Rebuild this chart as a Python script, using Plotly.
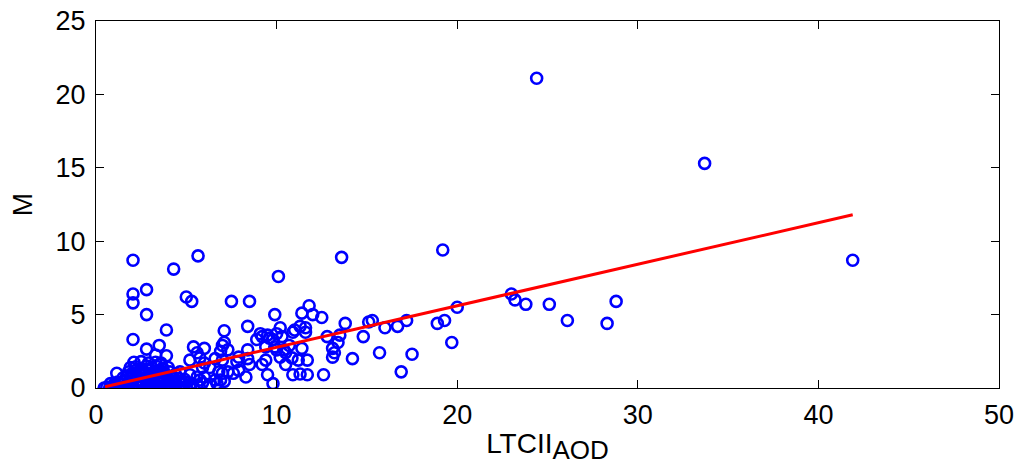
import plotly.graph_objects as go

# ---- data ----
x_outer = [24.4, 33.7, 41.9, 28.8, 28.3, 26.1, 25.1, 23.8, 23.2, 23.0, 20.0, 19.7, 19.3, 18.9,
           19.2, 17.5, 17.2, 16.9, 16.7, 16.0, 15.7, 15.3, 15.1, 14.8, 14.2, 13.8, 13.6, 13.5,
           13.4, 12.8, 13.1, 13.2, 13.1, 12.5, 12.0, 11.8, 11.4, 11.3, 11.6, 11.6, 11.7, 11.2,
           11.3, 11.7, 12.6, 10.1, 9.9, 10.9, 10.3, 10.0, 9.5, 9.1, 8.9, 9.4, 9.9, 10.4, 10.7,
           11.4, 9.4, 10.5, 10.9, 9.5, 9.8, 8.3, 8.5, 7.8, 7.9, 8.4, 8.4, 7.1, 7.0, 7.3, 6.0,
           5.6, 6.6, 7.0, 6.3, 6.8, 7.3, 5.9, 6.0, 6.6, 5.6, 7.5, 8.5, 5.65, 4.3, 2.05, 2.8,
           2.05, 2.05, 5.0, 5.3, 2.8, 3.9, 2.05, 2.8, 3.5, 3.3, 3.9, 5.4, 5.2, 1.15, 4.65,
           10.85, 10.2, 11.0, 10.2, 9.8, 9.2, 9.6, 7.1, 6.9, 5.75, 6.0, 7.9, 8.4, 9.2, 7.0, 7.6,
           6.9, 5.2, 5.75, 10.0, 10.5]
y_outer = [21.1, 15.3, 8.7, 5.9, 4.4, 4.6, 5.7, 5.7, 6.0, 6.4, 5.5, 3.1, 4.6, 4.4,
           9.4, 2.3, 4.6, 1.1, 4.2, 4.1, 2.4, 4.6, 4.5, 3.5, 2.0, 4.4, 8.9, 3.6,
           3.1, 3.5, 2.7, 2.4, 2.1, 4.8, 5.0, 5.6, 5.1, 4.2, 4.1, 3.8, 1.9, 1.9,
           0.95, 0.9, 0.9, 7.6, 5.0, 3.8, 3.5, 3.7, 3.6, 3.7, 3.3, 2.8, 2.8, 2.6, 2.9,
           2.7, 1.9, 1.6, 0.9, 0.9, 0.3, 0.75, 1.6, 1.8, 1.2, 4.2, 2.6, 3.9, 2.9, 2.6, 2.7,
           2.4, 2.0, 1.9, 1.4, 1.1, 1.1, 1.4, 0.75, 0.55, 0.75, 5.9, 5.9, 9.0, 8.1, 8.7, 6.7,
           6.4, 5.8, 6.2, 5.9, 5.0, 3.95, 3.3, 2.65, 2.9, 2.25, 2.2, 2.8, 1.9, 1.0, 1.1,
           2.05, 2.1, 3.95, 4.1, 3.3, 3.5, 3.4, 3.1, 2.5, 2.05, 1.7, 2.1, 2.0, 1.6, 1.0, 1.0,
           0.55, 0.9, 0.55, 2.6, 2.4]

# dense cluster near the origin
x_cluster = [0.45, 0.6, 0.75, 0.9, 1.05, 1.2, 1.35, 1.5, 1.65, 1.8, 1.95, 2.1, 2.25, 2.4, 2.55,
             2.7, 2.85, 3.0, 3.15, 3.3, 3.45, 3.6, 3.8, 4.0, 4.2, 4.4, 4.6, 4.8, 5.0, 5.2, 5.4,
             0.8, 1.0, 1.2, 1.4, 1.6, 1.8, 2.0, 2.2, 2.4, 2.6, 2.8, 3.0, 3.2, 3.4, 3.6, 3.8,
             4.0, 4.2, 4.4, 4.6, 4.8, 5.0, 5.3,
             1.5, 1.7, 1.9, 2.1, 2.3, 2.5, 2.7, 2.9, 3.1, 3.3, 3.5, 3.7, 3.9, 4.1, 4.3, 4.6, 4.9,
             1.8, 2.0, 2.2, 2.4, 2.6, 2.8, 3.0, 3.2, 3.4, 3.6, 3.8, 4.1, 4.4,
             1.9, 2.2, 2.5, 2.8, 3.1, 3.4, 3.7, 4.0,
             2.1, 2.5, 2.9, 3.3, 3.6,
             5.6, 5.9, 6.3, 6.7, 7.1]
y_cluster = [0.0, 0.05, 0.0, 0.08, 0.02, 0.1, 0.0, 0.06, 0.12, 0.03, 0.1, 0.0, 0.15, 0.05, 0.1,
             0.0, 0.12, 0.05, 0.1, 0.0, 0.08, 0.1, 0.0, 0.05, 0.1, 0.0, 0.06, 0.0, 0.1, 0.02, 0.05,
             0.3, 0.25, 0.4, 0.3, 0.45, 0.35, 0.5, 0.3, 0.45, 0.35, 0.5, 0.3, 0.4, 0.5, 0.35, 0.45,
             0.3, 0.4, 0.35, 0.45, 0.3, 0.4, 0.3,
             0.7, 0.8, 0.65, 0.85, 0.75, 0.9, 0.7, 0.85, 0.75, 0.9, 0.8, 0.7, 0.85, 0.75, 0.7, 0.65, 0.6,
             1.1, 1.0, 1.2, 1.05, 1.15, 1.0, 1.2, 1.1, 1.05, 1.15, 1.0, 1.1, 0.95,
             1.4, 1.45, 1.35, 1.5, 1.4, 1.45, 1.35, 1.4,
             1.75, 1.8, 1.7, 1.75, 1.7,
             0.2, 0.35, 0.25, 0.3, 0.45]

x_vals = x_outer + x_cluster
y_vals = y_outer + y_cluster

# regression line
fit_slope = 0.283
fit_intercept = -0.06
fit_x = [0.5, 41.9]
fit_y = [fit_slope * v + fit_intercept for v in fit_x]

x_ticks = [0, 10, 20, 30, 40, 50]
y_ticks = [0, 5, 10, 15, 20, 25]

FONT = "Liberation Sans, Arial, Helvetica, sans-serif"

fig = go.Figure()
fig.add_trace(go.Scatter(
    x=x_vals, y=y_vals, mode="markers",
    marker=dict(symbol="circle-open", size=11, color="#0000ff",
                line=dict(width=2.6, color="#0000ff")),
    showlegend=False, cliponaxis=True,
))
fig.add_trace(go.Scatter(
    x=fit_x, y=fit_y, mode="lines",
    line=dict(color="#ff0000", width=3),
    showlegend=False,
))

axis_common = dict(
    showgrid=False, zeroline=False, showline=True, linecolor="black", linewidth=1.3,
    mirror="ticks", ticks="inside", ticklen=8, tickwidth=1.3, tickcolor="black",
    tickfont=dict(family=FONT, size=27, color="black"),
)

fig.update_layout(
    width=1021, height=465,
    margin=dict(l=96, r=22, t=21, b=77, autoexpand=False),
    paper_bgcolor="white", plot_bgcolor="white",
    xaxis=dict(range=[0, 50], tickvals=x_ticks, ticktext=[str(v) for v in x_ticks],
               ticklabelstandoff=2,
               title=dict(text='LTCII<sub><span style="font-size:26px">AOD</span></sub>',
                          font=dict(family=FONT, size=28, color="black"), standoff=8),
               **axis_common),
    yaxis=dict(range=[0, 25], tickvals=y_ticks, ticktext=[str(v) for v in y_ticks],
               ticklabelstandoff=4,
               title=dict(text="M", font=dict(family=FONT, size=28, color="black"), standoff=14),
               **axis_common),
)

fig.write_html("out.html")
